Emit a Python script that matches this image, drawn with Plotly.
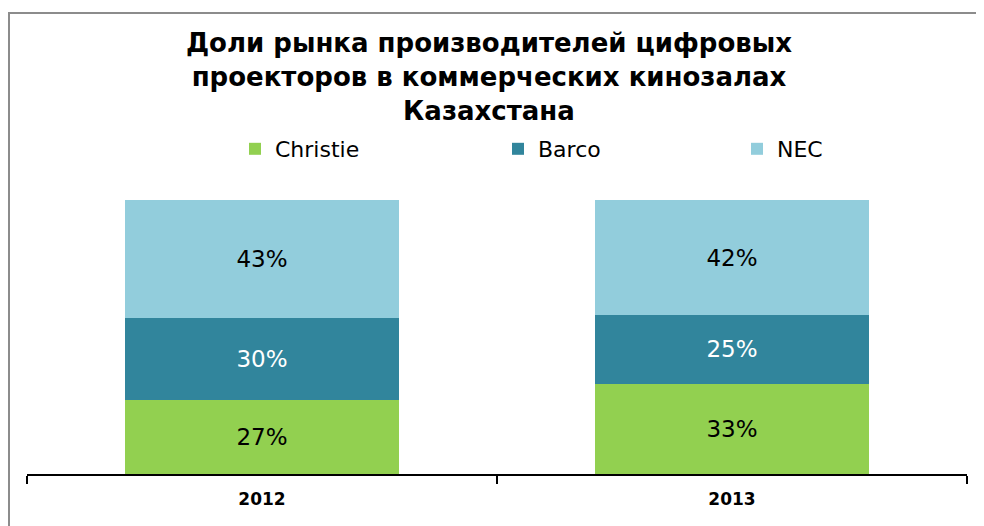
import plotly.graph_objects as go

# Data.
years = ["2012", "2013"]
christie = [27, 33]
barco = [30, 25]
nec = [43, 42]

series = [
    ("Christie", christie, "#92D050", "#000000", "legend"),
    ("Barco", barco, "#31859C", "#FFFFFF", "legend2"),
    ("NEC", nec, "#92CDDC", "#000000", "legend3"),
]

font_family = "Verdana, DejaVu Sans, sans-serif"

fig = go.Figure()
for name, values, color, text_color, legend in series:
    fig.add_trace(go.Bar(
        x=years,
        y=values,
        name=name,
        marker=dict(color=color, line=dict(width=0)),
        text=[f"{v}%" for v in values],
        textposition="inside",
        insidetextanchor="middle",
        textangle=0,
        constraintext="none",
        textfont=dict(family=font_family, size=23, color=text_color),
        legend=legend,
        showlegend=True,
    ))

# One legend per series so each entry sits where the original puts it.
legend_style = dict(
    orientation="h",
    xref="container",
    yref="container",
    yanchor="middle",
    xanchor="left",
    y=1 - 141 / 526,
    font=dict(family=font_family, size=22, color="#000000"),
    bgcolor="rgba(0,0,0,0)",
)

fig.update_layout(
    width=984,
    height=526,
    showlegend=True,
    barmode="stack",
    bargap=0.415,
    plot_bgcolor="white",
    paper_bgcolor="white",
    margin=dict(l=19, r=25, t=192, b=60),
    title=dict(
        text="Доли рынка производителей цифровых<br>проекторов в коммерческих кинозалах<br>Казахстана",
        x=481 / 984,
        xanchor="center",
        xref="container",
        y=1 - 44 / 526,
        yanchor="middle",
        yref="container",
        font=dict(family=font_family, size=26, color="#000000", weight="bold"),
    ),
    legend=dict(legend_style, x=227 / 984),
    legend2=dict(legend_style, x=490 / 984),
    legend3=dict(legend_style, x=729 / 984),
    xaxis=dict(
        showline=True,
        linecolor="#000000",
        linewidth=2,
        ticks="outside",
        tickson="boundaries",
        ticklen=8,
        tickwidth=1.5,
        tickcolor="#000000",
        ticklabelstandoff=9,
        tickfont=dict(family=font_family, size=17, color="#000000", weight="bold"),
        showgrid=False,
    ),
    yaxis=dict(
        range=[0, 100],
        visible=False,
        showgrid=False,
    ),
    shapes=[dict(
        type="rect",
        xref="paper",
        yref="paper",
        x0=-18 / 940,
        x1=1.1,
        y0=-0.3,
        y1=(466 - 5) / 274,
        line=dict(color="#8C8C8C", width=2),
        fillcolor="rgba(0,0,0,0)",
        layer="below",
    )],
)

fig.write_html("out.html")
